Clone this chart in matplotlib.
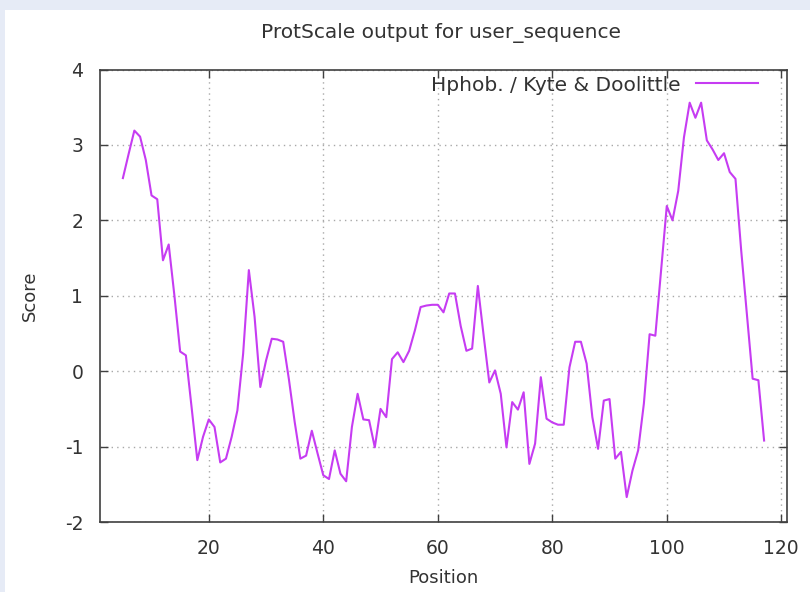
import matplotlib
matplotlib.use("Agg")
import matplotlib.pyplot as plt
from matplotlib.patches import Rectangle

plt.rcParams["axes.unicode_minus"] = False

# --- Data (window positions 5..117) ---
position = list(range(5, 118))
score = [
    2.56, 2.88, 3.19, 3.11, 2.80, 2.33, 2.28, 1.47, 1.68, 1.00,   # 5-14
    0.26, 0.21, -0.48, -1.18, -0.87, -0.64, -0.74, -1.21, -1.16, -0.87,   # 15-24
    -0.52, 0.23, 1.34, 0.72, -0.21, 0.14, 0.43, 0.42, 0.39, -0.11,   # 25-34
    -0.67, -1.16, -1.12, -0.79, -1.09, -1.38, -1.43, -1.05, -1.36, -1.46,   # 35-44
    -0.74, -0.30, -0.64, -0.65, -1.01, -0.50, -0.61, 0.16, 0.25, 0.12,   # 45-54
    0.27, 0.54, 0.85, 0.87, 0.88, 0.88, 0.78, 1.03, 1.03, 0.60,   # 55-64
    0.27, 0.30, 1.13, 0.48, -0.15, 0.01, -0.30, -1.01, -0.41, -0.51,   # 65-74
    -0.28, -1.23, -0.96, -0.08, -0.63, -0.68, -0.71, -0.71, 0.05, 0.39,   # 75-84
    0.39, 0.10, -0.61, -1.03, -0.39, -0.37, -1.16, -1.07, -1.67, -1.32,   # 85-94
    -1.05, -0.43, 0.49, 0.47, 1.33, 2.19, 2.00, 2.39, 3.10, 3.56,   # 95-104
    3.36, 3.56, 3.06, 2.94, 2.80, 2.89, 2.64, 2.55, 1.60, 0.75,   # 105-114
    -0.10, -0.12, -0.92,   # 115-117
]
x_ticks = [20, 40, 60, 80, 100, 120]
y_ticks = [-2, -1, 0, 1, 2, 3, 4]

# --- Figure ---
fig = plt.figure(figsize=(8.1, 5.92), dpi=100, facecolor="#e6ebf6")
fig.patches.append(Rectangle((5 / 810, 0), 1, 1 - 10 / 592, transform=fig.transFigure,
                             facecolor="white", edgecolor="none", zorder=-10))

ax = fig.add_axes([100 / 810, 1 - 522 / 592, 687 / 810, 452.5 / 592])
ax.set_zorder(5)
ax.patch.set_alpha(0)
ax.plot(position, score, color="#c63cf2", lw=1.5, label="Hphob. / Kyte & Doolittle")

ax.set_xlim(1, 121)
ax.set_ylim(-2, 4)
ax.set_xticks(x_ticks)
ax.set_yticks(y_ticks)
ax.grid(True, color="#a8a8a8", linestyle=(0, (1, 3)), lw=1)
ax.tick_params(direction="in", top=True, right=True, length=6, width=1,
               color="#404040", labelsize=13.5, labelcolor="#333333", pad=12)
for s in ax.spines.values():
    s.set_color("#404040")
    s.set_linewidth(1.2)

ax.set_xlabel("Position", fontsize=13, color="#333333", labelpad=8)
ax.set_ylabel("Score", fontsize=13, color="#333333", labelpad=19)
fig.text(441 / 810, 1 - 33 / 592, "ProtScale output for user_sequence",
         ha="center", va="center", fontsize=14.5, color="#333333")

leg = ax.legend(loc="center right", bbox_to_anchor=(0.958, 0.9657), frameon=False,
                fontsize=14.5, handlelength=3.1, handletextpad=0.75,
                markerfirst=False, borderaxespad=0, borderpad=0, labelcolor="#333333")

fig.savefig("out.png", dpi=100, facecolor=fig.get_facecolor())
